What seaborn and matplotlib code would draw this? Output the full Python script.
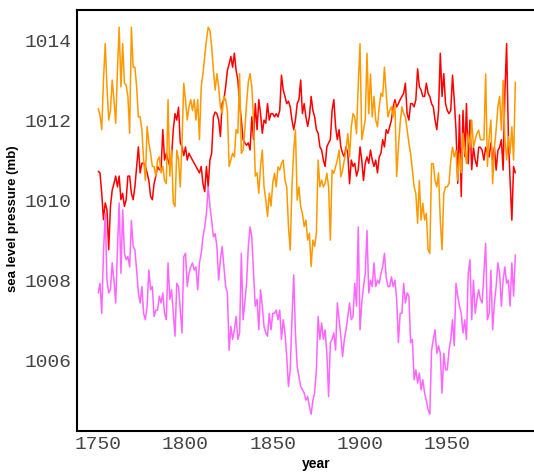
import numpy as np
import pandas as pd
import matplotlib
matplotlib.use("Agg")
import matplotlib.pyplot as plt
import seaborn as sns

# annual sea level pressure (mb)
years = list(range(1750, 1990))

red_slp = [
    1010.73, 1010.69, 1010.18, 1009.52, 1009.94, 1009.77, 1008.77, 1009.85, 1010.26, 1010.42,
    1010.61, 1010.34, 1010.61, 1010.02, 1010.18, 1009.85, 1010.02, 1010.61, 1010.61, 1010.18,
    1010.02, 1010.34, 1010.85, 1011.34, 1010.69, 1010.93, 1010.93, 1010.85, 1010.69, 1010.50,
    1010.10, 1010.02, 1010.42, 1010.61, 1010.85, 1010.77, 1010.77, 1011.77, 1011.01, 1011.18,
    1011.01, 1010.85, 1011.09, 1011.77, 1012.17, 1012.01, 1012.33, 1011.44, 1011.34, 1011.12,
    1011.34, 1011.01, 1011.18, 1011.09, 1011.01, 1010.93, 1010.85, 1010.77, 1010.69, 1010.85,
    1010.42, 1010.22, 1010.85, 1010.34, 1011.01, 1011.18, 1012.09, 1012.21, 1012.17, 1012.01,
    1011.60, 1012.42, 1012.52, 1012.84, 1013.25, 1013.41, 1013.60, 1013.33, 1013.68, 1013.25,
    1013.01, 1012.42, 1012.01, 1011.52, 1011.44, 1011.38, 1011.44, 1011.26, 1012.09, 1011.52,
    1012.42, 1011.77, 1012.52, 1012.17, 1011.68, 1012.01, 1011.93, 1012.42, 1012.01, 1012.17,
    1012.17, 1012.09, 1012.17, 1012.09, 1012.25, 1013.13, 1012.76, 1012.60, 1012.42, 1012.48,
    1012.34, 1012.01, 1011.77, 1012.01, 1012.42, 1012.52, 1013.01, 1012.17, 1012.42, 1012.09,
    1011.85, 1012.09, 1012.60, 1012.25, 1012.09, 1011.77, 1011.68, 1011.34, 1011.26, 1011.01,
    1010.85, 1011.34, 1011.44, 1011.52, 1012.25, 1012.52, 1011.85, 1011.52, 1011.77, 1011.34,
    1011.18, 1011.09, 1011.34, 1011.18, 1010.42, 1011.01, 1010.85, 1010.93, 1010.61, 1010.77,
    1011.34, 1011.01, 1010.50, 1010.93, 1011.09, 1010.93, 1011.26, 1011.01, 1010.85, 1011.01,
    1010.69, 1011.09, 1011.18, 1011.52, 1011.34, 1011.77, 1011.68, 1011.85, 1012.01, 1012.34,
    1012.52, 1012.34, 1012.42, 1012.52, 1012.60, 1012.68, 1012.93, 1012.17, 1012.01, 1012.42,
    1012.42, 1012.34, 1012.52, 1013.29, 1012.84, 1012.76, 1012.60, 1012.60, 1012.93, 1012.68,
    1012.60, 1012.42, 1012.34, 1012.01, 1011.77, 1012.25, 1013.68, 1012.60, 1013.17, 1012.42,
    1012.25, 1012.17, 1012.25, 1013.13, 1012.51, 1011.76, 1010.43, 1012.14, 1010.10, 1012.25,
    1011.10, 1012.42, 1010.92, 1012.01, 1010.77, 1011.33, 1011.01, 1010.85, 1011.33, 1011.33,
    1011.25, 1011.01, 1011.33, 1011.18, 1011.09, 1011.44, 1011.01, 1011.33, 1010.76, 1011.25,
    1011.33, 1011.52, 1010.76, 1012.68, 1013.92, 1011.60, 1010.50, 1009.51, 1010.85, 1010.69,
]

orange_slp = [
    1012.30, 1012.13, 1011.77, 1013.01, 1013.92, 1012.84, 1012.01, 1012.25, 1013.01, 1012.52,
    1011.93, 1013.25, 1014.33, 1012.84, 1013.92, 1012.93, 1012.88, 1012.60, 1011.68, 1014.33,
    1013.33, 1013.33, 1012.84, 1012.09, 1012.09, 1011.77, 1011.01, 1010.50, 1011.85, 1011.44,
    1011.18, 1010.85, 1010.85, 1010.61, 1011.01, 1011.09, 1010.69, 1010.85, 1010.50, 1010.42,
    1012.52, 1010.61, 1011.26, 1009.94, 1009.85, 1011.26, 1011.01, 1010.34, 1011.44, 1012.93,
    1012.52, 1012.01, 1012.34, 1012.52, 1012.25, 1012.52, 1012.01, 1012.52, 1011.52, 1012.84,
    1013.17, 1013.60, 1014.00, 1014.33, 1014.25, 1013.84, 1013.25, 1012.76, 1013.17, 1012.84,
    1012.34, 1012.17, 1012.60, 1012.52, 1012.25, 1010.85, 1011.01, 1011.18, 1011.09, 1011.77,
    1011.68, 1013.17, 1011.18, 1011.26, 1011.77, 1012.42, 1012.96, 1013.17, 1012.84, 1012.01,
    1010.61, 1010.69, 1010.18, 1010.85, 1011.26, 1010.34, 1010.02, 1009.60, 1010.18, 1009.86,
    1010.44, 1010.68, 1010.34, 1010.84, 1010.76, 1010.93, 1011.01, 1010.51, 1010.34, 1009.35,
    1008.76, 1010.34, 1011.26, 1011.76, 1010.01, 1010.34, 1009.84, 1009.68, 1009.35, 1009.51,
    1009.01, 1009.18, 1008.35, 1009.01, 1008.85, 1009.18, 1011.01, 1010.34, 1010.51, 1010.34,
    1010.43, 1010.68, 1010.34, 1009.01, 1010.76, 1010.68, 1010.84, 1011.01, 1011.26, 1010.59,
    1010.76, 1011.01, 1011.26, 1011.67, 1011.09, 1011.84, 1012.17, 1012.09, 1011.67, 1012.92,
    1013.92, 1011.52, 1011.76, 1012.01, 1013.68, 1012.17, 1013.16, 1012.09, 1012.60, 1012.01,
    1011.84, 1012.34, 1012.68, 1012.60, 1013.33, 1012.68, 1012.09, 1012.25, 1012.34, 1012.09,
    1012.42, 1010.60, 1011.33, 1011.93, 1012.34, 1012.17, 1012.09, 1011.76, 1011.44, 1011.17,
    1010.77, 1010.34, 1010.17, 1009.43, 1010.50, 1009.51, 1009.93, 1009.51, 1009.68, 1008.77,
    1008.68, 1010.92, 1010.92, 1010.50, 1010.34, 1010.69, 1009.51, 1008.77, 1010.17, 1010.34,
    1010.34, 1010.43, 1011.01, 1011.33, 1011.09, 1011.25, 1010.50, 1011.17, 1010.69, 1011.68,
    1011.25, 1010.92, 1011.68, 1011.33, 1012.01, 1011.33, 1011.52, 1011.68, 1011.76, 1011.52,
    1011.52, 1011.52, 1013.16, 1010.85, 1011.60, 1012.01, 1010.42, 1011.33, 1011.76, 1012.34,
    1012.60, 1011.76, 1013.00, 1011.60, 1011.01, 1011.60, 1011.17, 1011.84, 1011.01, 1012.96,
]

violet_slp = [
    1007.69, 1007.93, 1007.18, 1008.68, 1009.68, 1008.01, 1007.69, 1007.77, 1008.44, 1008.01,
    1007.44, 1008.77, 1009.94, 1008.18, 1009.77, 1008.68, 1008.52, 1008.60, 1008.34, 1009.50,
    1008.85, 1008.77, 1008.26, 1007.69, 1007.44, 1007.85, 1007.18, 1007.02, 1007.36, 1008.26,
    1007.77, 1007.85, 1007.10, 1007.26, 1007.26, 1007.61, 1007.44, 1007.69, 1007.18, 1007.02,
    1008.44, 1007.53, 1007.77, 1007.18, 1006.61, 1007.93, 1007.85, 1007.26, 1006.69, 1008.60,
    1008.68, 1007.85, 1008.18, 1008.34, 1008.44, 1008.26, 1008.34, 1007.77, 1008.44, 1008.68,
    1009.09, 1009.34, 1009.68, 1010.34, 1009.85, 1009.50, 1009.09, 1009.17, 1008.85, 1008.01,
    1008.52, 1008.85, 1008.34, 1007.85, 1007.69, 1006.26, 1006.85, 1006.53, 1006.77, 1007.10,
    1006.53, 1006.69, 1008.68, 1007.02, 1007.44, 1007.93, 1008.85, 1009.34, 1009.09, 1008.18,
    1007.36, 1007.53, 1006.77, 1007.77, 1007.36, 1006.85, 1006.69, 1006.61, 1007.18, 1006.77,
    1007.18, 1007.18, 1007.26, 1007.02, 1007.26, 1006.53, 1007.02, 1006.69, 1006.10, 1005.35,
    1005.77, 1007.02, 1008.14, 1006.69, 1005.85, 1005.60, 1005.35, 1005.27, 1005.19, 1005.01,
    1005.10, 1004.85, 1004.66, 1005.01, 1005.19, 1005.77, 1007.10, 1006.53, 1006.94, 1006.53,
    1006.77, 1006.18, 1005.10, 1006.45, 1006.53, 1006.69, 1006.26, 1007.44, 1007.02, 1006.61,
    1006.10, 1006.53, 1006.77, 1007.10, 1007.44, 1007.02, 1007.10, 1007.93, 1007.36, 1009.34,
    1006.77, 1007.44, 1007.85, 1008.18, 1009.25, 1007.69, 1008.01, 1007.85, 1008.44, 1007.85,
    1008.01, 1007.93, 1008.18, 1008.34, 1008.68, 1008.09, 1007.85, 1007.85, 1008.09, 1007.85,
    1008.01, 1007.53, 1006.45, 1007.18, 1007.18, 1007.93, 1007.44, 1007.69, 1007.61, 1006.45,
    1006.53, 1005.52, 1005.77, 1005.44, 1005.69, 1005.27, 1005.52, 1005.19, 1005.01, 1004.77,
    1004.66, 1006.26, 1006.53, 1006.77, 1006.18, 1006.37, 1006.18, 1005.19, 1006.18, 1005.77,
    1005.77, 1006.26, 1006.53, 1007.02, 1006.37, 1007.93, 1007.61, 1007.36, 1007.18, 1006.69,
    1007.02, 1006.53, 1008.18, 1008.52, 1007.02, 1008.01, 1007.18, 1007.53, 1007.77, 1007.53,
    1007.44, 1008.18, 1008.93, 1007.02, 1007.18, 1008.26, 1006.77, 1007.44, 1007.85, 1008.44,
    1008.18, 1007.36, 1008.01, 1008.34, 1007.93, 1008.01, 1007.36, 1008.44, 1007.61, 1008.64,
]

series_names = ["red", "orange", "violet"]
series_colors = {"red": "#FF0000", "orange": "#FF9900", "violet": "#FF66FF"}
x_ticks = [1750, 1800, 1850, 1900, 1950]
y_ticks = [1006, 1008, 1010, 1012, 1014]

df = pd.DataFrame({
    "year": years * 3,
    "slp": red_slp + orange_slp + violet_slp,
    "series": ["red"] * len(years) + ["orange"] * len(years) + ["violet"] * len(years),
})

sns.set_style("white")
plt.rcParams["font.family"] = ["Liberation Sans", "DejaVu Sans"]

W, H = 534, 476
fig = plt.figure(figsize=(W / 100, H / 100), dpi=100)
# frame runs off the right border of the image, so no right spine shows
ax = fig.add_axes([76.6 / W, (H - 431) / H, (536.8 - 76.6) / W, (431 - 10) / H])

sns.lineplot(data=df, x="year", y="slp", hue="series", hue_order=series_names,
             palette=series_colors, linewidth=1.1, legend=False, ax=ax)

ax.set_xlim(1737.6, 2001.3)
ax.set_ylim(1004.24, 1014.76)
ax.set_xticks(x_ticks)
ax.set_yticks(y_ticks)

for side in ["left", "bottom", "top"]:
    ax.spines[side].set_visible(True)
    ax.spines[side].set_color("black")
    ax.spines[side].set_linewidth(1.5)
ax.spines["right"].set_visible(False)

ax.tick_params(axis="both", length=2.5, width=0.8, color="#444444",
               labelcolor="#444444", labelsize=14, pad=1)
for lab in ax.get_xticklabels() + ax.get_yticklabels():
    lab.set_family(["Liberation Mono", "DejaVu Sans Mono"])

ax.set_xlabel("year", fontsize=10, fontweight="bold", color="black")
ax.set_ylabel("sea level pressure (mb)", fontsize=9.5, fontweight="bold", color="black")
ax.xaxis.set_label_coords(0.52, -0.062)
ax.yaxis.set_label_coords(-0.125, 0.504)

fig.savefig("out.png", dpi=100)
